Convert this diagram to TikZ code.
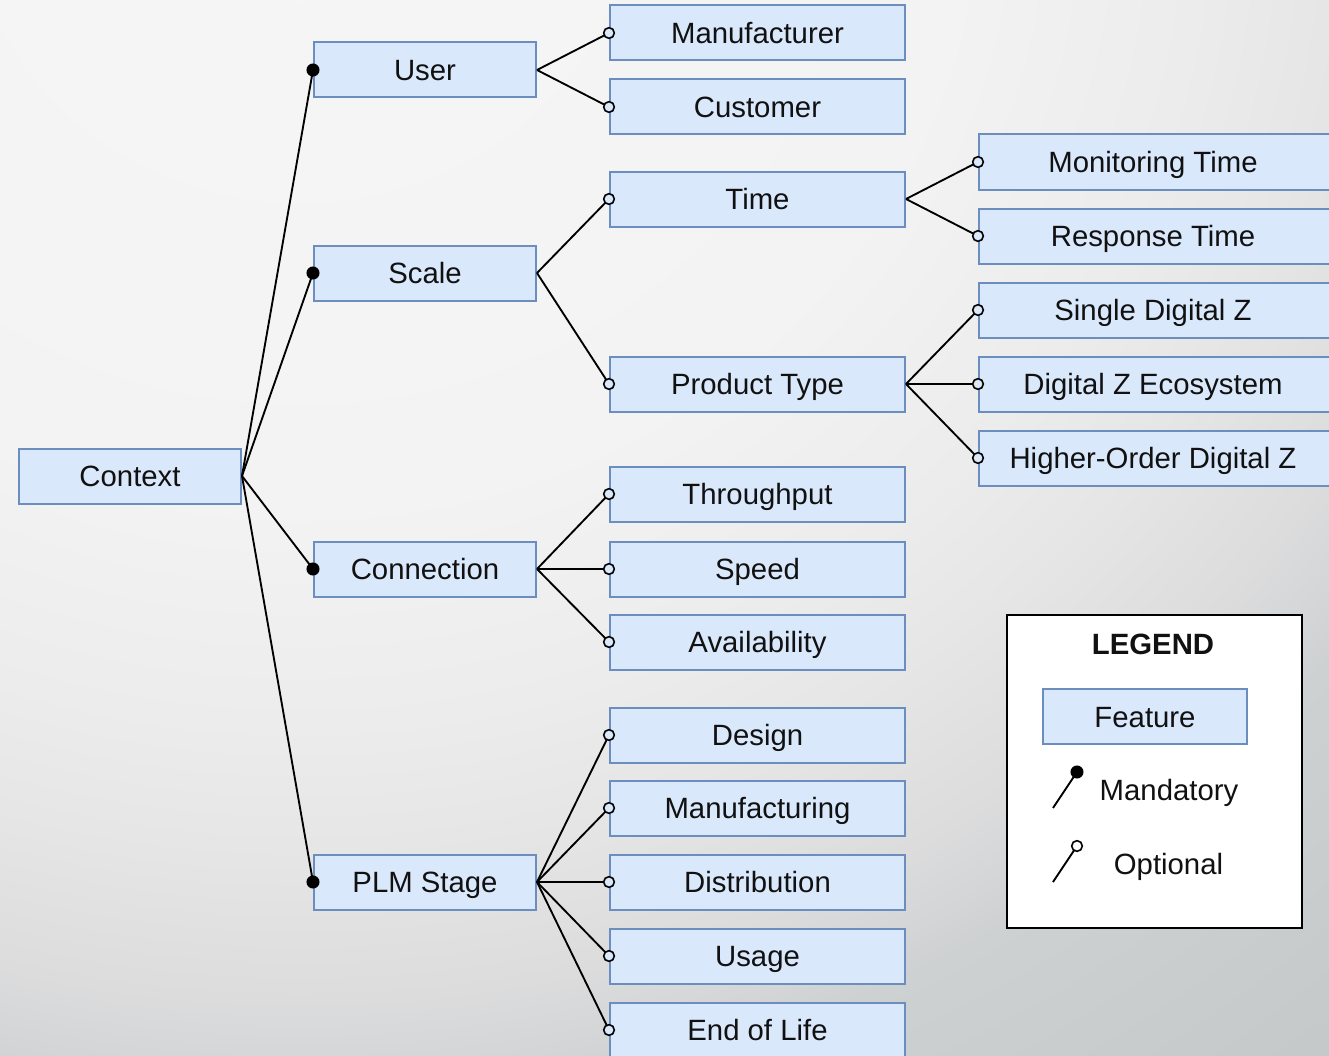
\documentclass[tikz,border=0pt]{standalone}
\usepackage{fontspec}
\setmainfont{Liberation Sans}
\definecolor{featfill}{HTML}{DAE8FC}
\definecolor{featline}{HTML}{6C8EBF}
\definecolor{inktext}{HTML}{111111}
\definecolor{bgA}{RGB}{246,246,246}
\definecolor{bgB}{RGB}{243,243,243}
\definecolor{bgC}{RGB}{236,236,236}
\definecolor{bgD}{RGB}{230,230,231}
\definecolor{bgE}{RGB}{220,220,221}
\definecolor{bgF}{RGB}{206,209,210}
\definecolor{bgG}{RGB}{196,199,200}
% radial backdrop: 25bp corresponds to the unit ellipse
\pgfdeclareradialshading{backdrop}{\pgfpoint{0bp}{0bp}}{%
  color(0bp)=(bgA); color(13.75bp)=(bgB); color(18.75bp)=(bgC);
  color(21.5bp)=(bgD); color(25bp)=(bgE); color(27.5bp)=(bgF);
  color(35bp)=(bgG); color(50bp)=(bgG)}
\begin{document}
\begin{tikzpicture}[x=0.75pt,y=-0.75pt,
  txt/.style={inner sep=0pt, text height=15.8pt, text depth=0pt,
    text=inktext, font=\fontsize{22}{26}\selectfont},
  feat/.style={txt, draw=featline, fill=featfill, line width=1.5pt,
    minimum height=41.25pt},
  lvlA/.style={feat, minimum width=166.5pt},
  lvlB/.style={feat, minimum width=221.25pt},
  lvlC/.style={feat, minimum width=270pt, execute at end node={\hspace*{9pt}}},
  conn/.style={line width=1.4pt, black},
  must/.style={fill=black},
  maybe/.style={draw=black, line width=1.2pt, fill=featfill}
]
% canvas and backdrop
\useasboundingbox (0,0) rectangle (1329,1056);
\begin{scope}
  \clip (0,0) rectangle (1329,1056);
  \pgftransformshift{\pgfpointxy{300}{-100}}
  \pgftransformxscale{35.9}
  \pgftransformyscale{32.9}
  \pgflowlevelsynccm
  \pgfuseshading{backdrop}
\end{scope}

% root
\node[lvlA] (context) at (130,476) {Context};

% first level
\node[lvlA] (user)   at (425,70)  {User};
\node[lvlA] (scale)  at (425,273) {Scale};
\node[lvlA] (conx)   at (425,569) {Connection};
\node[lvlA] (plm)    at (425,882) {PLM Stage};

% second level
\node[lvlB] (manu)   at (757.5,33)  {Manufacturer};
\node[lvlB] (cust)   at (757.5,107) {Customer};
\node[lvlB] (time)   at (757.5,199) {Time};
\node[lvlB] (ptype)  at (757.5,384) {Product Type};
\node[lvlB] (thru)   at (757.5,494) {Throughput};
\node[lvlB] (speed)  at (757.5,569) {Speed};
\node[lvlB] (avail)  at (757.5,642) {Availability};
\node[lvlB] (design) at (757.5,735) {Design};
\node[lvlB] (mfg)    at (757.5,808) {Manufacturing};
\node[lvlB] (dist)   at (757.5,882) {Distribution};
\node[lvlB] (usage)  at (757.5,956) {Usage};
\node[lvlB] (eol)    at (757.5,1030) {End of Life};

% third level
\node[lvlC] (mon)    at (1159,162) {Monitoring Time};
\node[lvlC] (resp)   at (1159,236) {Response Time};
\node[lvlC] (single) at (1159,310) {Single Digital Z};
\node[lvlC] (eco)    at (1159,384) {Digital Z Ecosystem};
\node[lvlC] (higher) at (1159,458) {Higher-Order Digital Z};

% mandatory edges
\foreach \k in {user,scale,conx,plm}
  \draw[conn] (context.east) -- (\k.west);
% optional edges
\foreach \p/\k in {user/manu,user/cust,scale/time,scale/ptype,
                   time/mon,time/resp,ptype/single,ptype/eco,ptype/higher,
                   conx/thru,conx/speed,conx/avail,
                   plm/design,plm/mfg,plm/dist,plm/usage,plm/eol}
  \draw[conn] (\p.east) -- (\k.west);

% end markers
\foreach \k in {user,scale,conx,plm}
  \fill[must] (\k.west) circle[radius=4.9pt];
\foreach \k in {manu,cust,time,ptype,mon,resp,single,eco,higher,
                thru,speed,avail,design,mfg,dist,usage,eol}
  \draw[maybe] (\k.west) circle[radius=4pt];

% legend
\node[draw=black, fill=white, line width=1.5pt, minimum width=221.25pt,
      minimum height=234.75pt, inner sep=0pt] (legend) at (1154.5,771.5) {};
\node[txt, font=\bfseries\fontsize{22}{26}\selectfont] (legtitle) at (1153,644) {LEGEND};
\node[feat, minimum width=153pt] (legfeat) at (1145,716.5) {Feature};
\coordinate (mandlo) at (1053,808);
\coordinate (mandhi) at (1077,772);
\draw[conn] (mandlo) -- (mandhi);
\fill[must] (mandhi) circle[radius=4.9pt];
\node[txt] (legmand) at (1169,790) {Mandatory};
\coordinate (optlo) at (1053,882);
\coordinate (opthi) at (1077,846);
\draw[conn] (optlo) -- (opthi);
\draw[maybe, fill=white] (opthi) circle[radius=4pt];
\node[txt] (legopt) at (1168.5,864) {Optional};
\end{tikzpicture}
\end{document}
